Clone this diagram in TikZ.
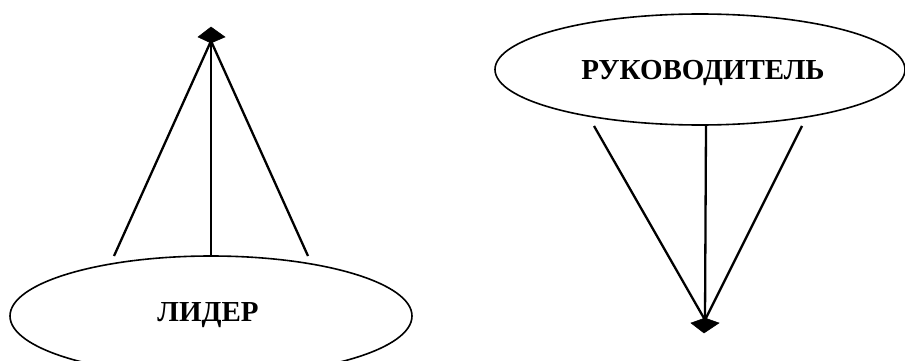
\documentclass[tikz,border=0pt]{standalone}
\usepackage{fontspec}
\setmainfont{Liberation Serif}
\usetikzlibrary{shapes.geometric}
\begin{document}
\begin{tikzpicture}[x=1pt,y=-1pt,
  oval/.style={ellipse,draw,line width=1.6pt,inner sep=0pt},
  lbl/.style={font=\fontsize{29}{32}\selectfont\bfseries},
  conn/.style={line width=2.3pt},
  tip/.style={fill=black,draw=black,line width=0.5pt}]
\useasboundingbox (0,0) rectangle (905,361);
\clip (0,0) rectangle (905,361);
\fill[white] (0,0) rectangle (905,361);
% left: leader
\node[oval,minimum width=402pt,minimum height=120pt] (lider) at (211,316) {};
\node[lbl] (lidertxt) at (208,315) {ЛИДЕР};
\coordinate (la) at (211,41);
\coordinate (l1) at (114,256);
\coordinate (l2) at (211,256);
\coordinate (l3) at (308,256);
\draw[conn] (l1) -- (la);
\draw[conn] (l2) -- (la);
\draw[conn] (l3) -- (la);
\filldraw[tip] (211,27) -- (198,37) -- (211,43) -- (225,37) -- cycle;
% right: manager
\node[oval,minimum width=410pt,minimum height=111pt] (ruk) at (700,69.5) {};
\node[lbl] (ruktxt) at (703,73) {РУКОВОДИТЕЛЬ};
\coordinate (ra) at (705,320);
\coordinate (r1) at (594,126);
\coordinate (r2) at (706,126);
\coordinate (r3) at (802,126);
\draw[conn] (r1) -- (ra);
\draw[conn] (r2) -- (ra);
\draw[conn] (r3) -- (ra);
\filldraw[tip] (704,333) -- (691,323) -- (705,318) -- (719,323) -- cycle;
\end{tikzpicture}
\end{document}
